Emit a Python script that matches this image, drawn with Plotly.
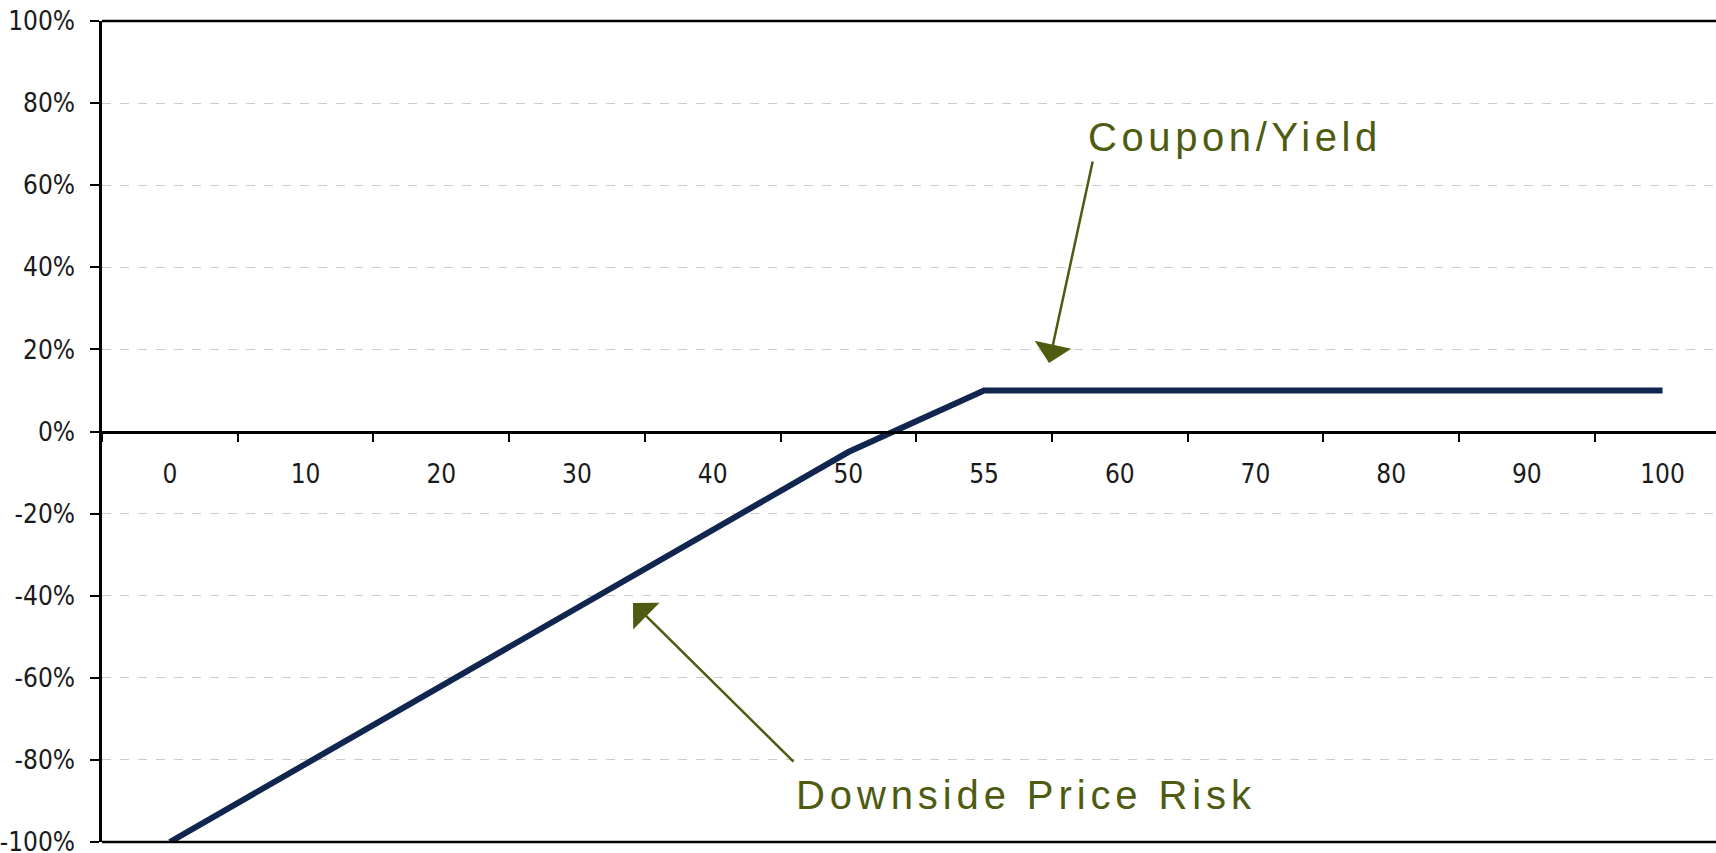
import plotly.graph_objects as go

# Payoff profile: price level vs. return
price_levels = ["0", "10", "20", "30", "40", "50", "55", "60", "70", "80", "90", "100"]
returns = [-1.00, -0.81, -0.62, -0.43, -0.24, -0.05, 0.10, 0.10, 0.10, 0.10, 0.10, 0.10]
y_ticks = [-1.0, -0.8, -0.6, -0.4, -0.2, 0.0, 0.2, 0.4, 0.6, 0.8, 1.0]
y_tick_text = [f"{round(v * 100)}%" for v in y_ticks]

W, H = 1716, 853
L, R, T, B = 102, 0, 21, 11
PW, PH = W - L - R, H - T - B

def px(x):
    return (x - L) / PW

def py(y):
    return (H - B - y) / PH

NAVY = "#10264f"
OLIVE = "#4e5b10"
AXIS_FONT = dict(family="Liberation Sans Narrow, Arial Narrow, DejaVu Sans Condensed, sans-serif",
                 size=26, color="#1a1a1a")
NOTE_FONT = dict(family="Liberation Sans, Arial, sans-serif", size=40, color=OLIVE)

fig = go.Figure()
fig.add_trace(go.Scatter(
    x=price_levels, y=returns, mode="lines",
    line=dict(color=NAVY, width=6),
    hoverinfo="skip", showlegend=False,
))

fig.update_layout(
    width=W, height=H,
    margin=dict(l=L, r=R, t=T, b=B, pad=0, autoexpand=False),
    paper_bgcolor="white", plot_bgcolor="white",
    xaxis=dict(
        type="category",
        categoryorder="array", categoryarray=price_levels,
        range=[-0.5, -0.5 + PW / 135.7],
        anchor="free", position=0.5,
        automargin=False,
        showline=True, linecolor="black", linewidth=2.5,
        ticks="outside", tickson="boundaries", ticklen=9, tickwidth=2, tickcolor="black",
        ticklabelstandoff=19,
        showgrid=False, zeroline=False,
        tickfont=AXIS_FONT,
    ),
    yaxis=dict(
        range=[-1, 1],
        tickvals=y_ticks, ticktext=y_tick_text,
        ticklabeloverflow="allow",
        ticklabelstandoff=10,
        automargin=False,
        showline=True, linecolor="black", linewidth=2.5,
        ticks="outside", ticklen=9, tickwidth=2, tickcolor="black",
        showgrid=True, gridcolor="#cccccc", gridwidth=1, griddash="dash",
        zeroline=False,
        tickfont=AXIS_FONT,
    ),
    shapes=[
        dict(type="line", xref="paper", yref="paper", x0=0, x1=1, y0=1, y1=1,
             line=dict(color="black", width=2.5)),
        dict(type="line", xref="paper", yref="paper", x0=0, x1=1, y0=0, y1=0,
             line=dict(color="black", width=2.5)),
    ],
)

# Callout labels
fig.add_annotation(
    xref="paper", yref="paper", x=px(1086), y=py(137),
    xanchor="left", yanchor="middle", showarrow=False,
    text='<span style="letter-spacing:4.6px">Coupon/Yield</span>', font=NOTE_FONT,
)
fig.add_annotation(
    xref="paper", yref="paper", x=px(794), y=py(795),
    xanchor="left", yanchor="middle", showarrow=False,
    text='<span style="letter-spacing:4.9px">Downside Price Risk</span>', font=NOTE_FONT,
)

# Callout arrows
fig.add_annotation(
    xref="paper", yref="paper", x=px(1049), y=py(363),
    ax=1093 - 1049, ay=160 - 363, axref="pixel", ayref="pixel",
    text="", showarrow=True, arrowhead=1, arrowsize=2.5, arrowwidth=2.5,
    arrowcolor=OLIVE, standoff=0,
)
fig.add_annotation(
    xref="paper", yref="paper", x=px(633), y=py(603),
    ax=795 - 633, ay=763 - 603, axref="pixel", ayref="pixel",
    text="", showarrow=True, arrowhead=1, arrowsize=2.5, arrowwidth=2.5,
    arrowcolor=OLIVE, standoff=0,
)

fig.write_html("out.html")
